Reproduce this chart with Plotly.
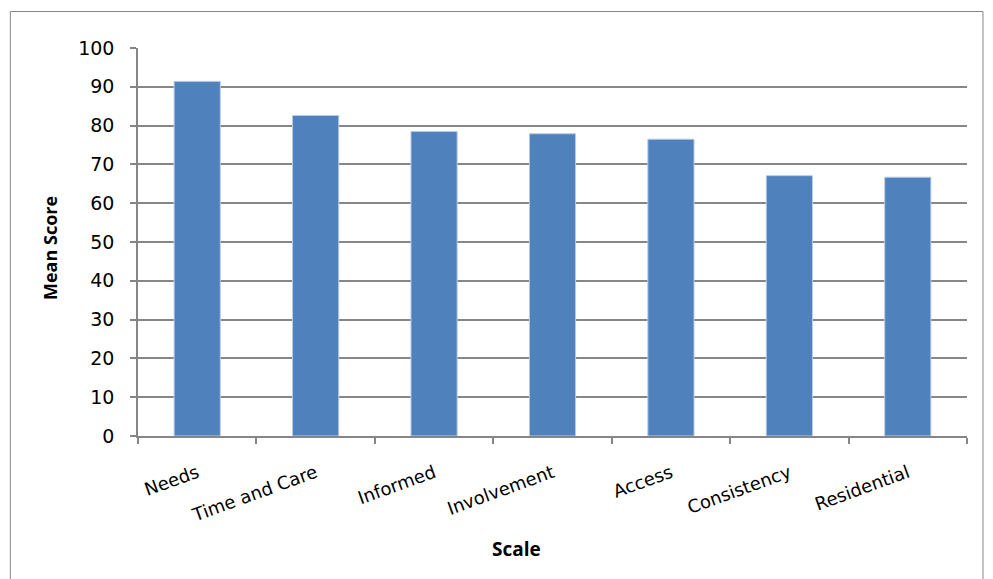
import plotly.graph_objects as go

categories = ["Needs", "Time and Care", "Informed", "Involvement", "Access", "Consistency", "Residential"]
mean_scores = [91.4, 82.6, 78.5, 77.9, 76.5, 67.1, 66.7]
y_ticks = [0, 10, 20, 30, 40, 50, 60, 70, 80, 90, 100]

FONT = "DejaVu Sans"

fig = go.Figure()
fig.add_trace(go.Bar(
    x=categories, y=mean_scores,
    marker=dict(color="#4F81BD", line=dict(color="#B9CDE5", width=1)),
    width=0.39,
))

fig.update_layout(
    width=993, height=579,
    margin=dict(l=138, r=26, t=48, b=143),
    paper_bgcolor="white", plot_bgcolor="white",
    showlegend=False,
    font=dict(family=FONT, color="black"),
    xaxis=dict(
        tickangle=-20, tickfont=dict(size=18), ticklabelstandoff=18,
        showline=True, linecolor="#868686", linewidth=1.5,
        ticks="outside", tickson="boundaries", ticklen=6, tickcolor="#868686", tickwidth=1.5,
        showgrid=False,
    ),
    yaxis=dict(
        range=[0, 100], tickvals=y_ticks, tickfont=dict(size=19), ticklabelstandoff=12,
        showline=True, linecolor="#868686", linewidth=1.5,
        ticks="outside", ticklen=6, tickcolor="#868686", tickwidth=1.5,
        showgrid=True, gridcolor="#868686", gridwidth=1.5,
        zeroline=False,
    ),
)

# axis titles
fig.add_annotation(text="<b>Scale</b>", xref="paper", yref="paper",
                   x=(516 - 138) / 829, y=(436 - 549) / 388, showarrow=False,
                   font=dict(size=19, family="Open Sans"), xanchor="center", yanchor="middle")
fig.add_annotation(text="<b>Mean Score</b>", xref="paper", yref="paper",
                   x=(50 - 138) / 829, y=(436 - 248) / 388, showarrow=False, textangle=-90,
                   font=dict(size=18, family="Open Sans"), xanchor="center", yanchor="middle")

fig.add_shape(type="rect", xref="paper", yref="paper",
              x0=-0.154, x1=1.0193, y0=-0.45, y1=1.094,
              line=dict(color="#868686", width=1), fillcolor="rgba(0,0,0,0)", layer="below")

fig.write_html("out.html")
